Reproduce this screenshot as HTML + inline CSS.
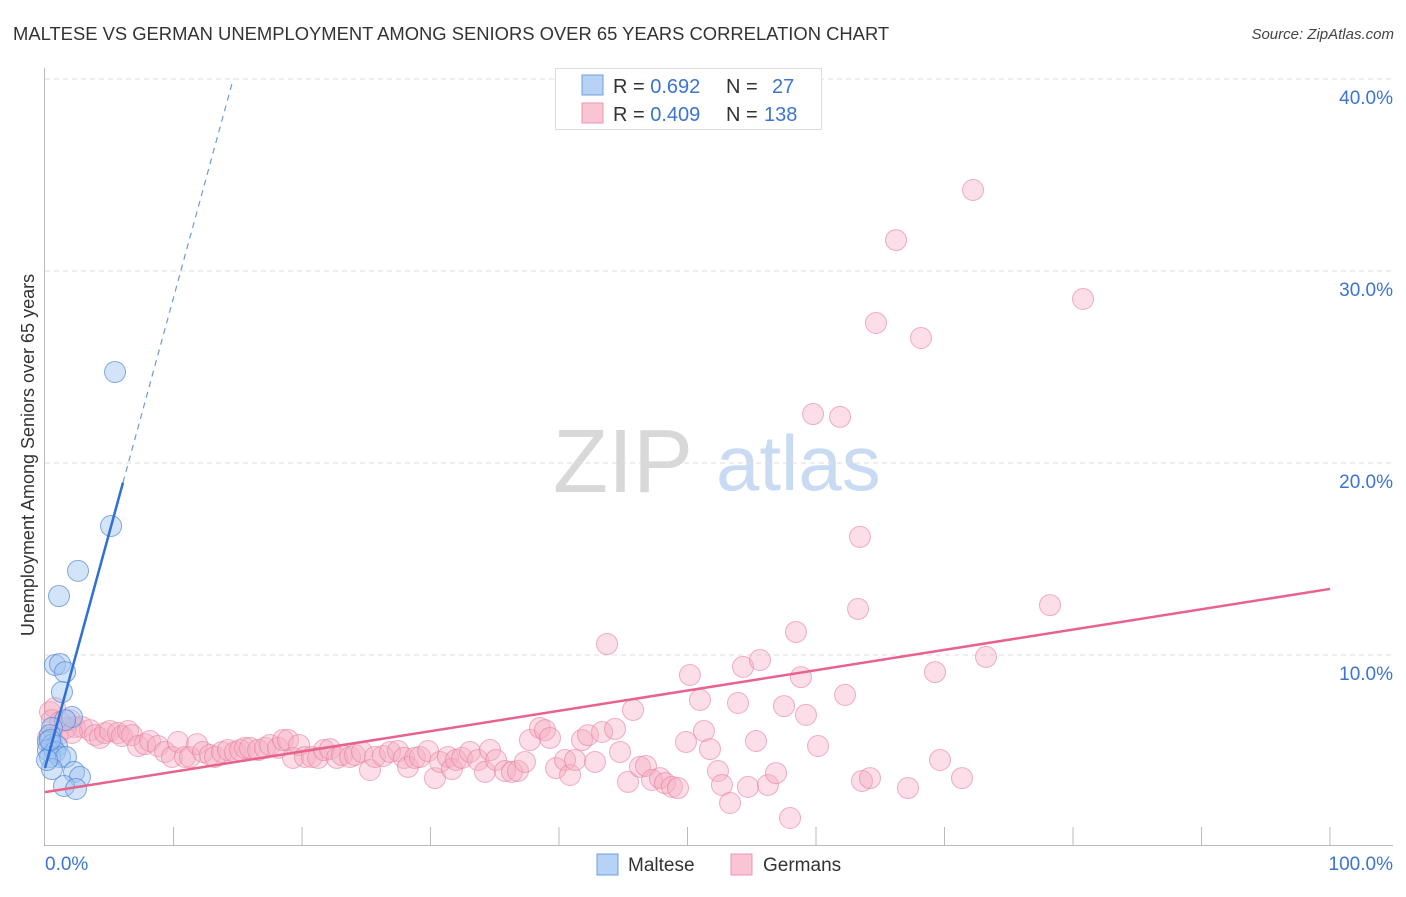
<!DOCTYPE html>
<html><head><meta charset="utf-8"><style>
body{margin:0;background:#fff;font-family:"Liberation Sans",sans-serif}
svg text{font-family:"Liberation Sans",sans-serif}
</style></head><body>
<svg id="chart" width="1406" height="892" viewBox="0 0 1406 892" xmlns="http://www.w3.org/2000/svg">
<text x="13" y="40" font-size="18.4" fill="#333">MALTESE VS GERMAN UNEMPLOYMENT AMONG SENIORS OVER 65 YEARS CORRELATION CHART</text>
<text x="1394" y="39" font-size="15" fill="#444" font-style="italic" text-anchor="end">Source: ZipAtlas.com</text>
<g>
<text x="553" y="492" font-size="90" fill="#d8d8d8" font-family="Liberation Serif, serif">ZIP</text>
<text x="716" y="490" font-size="78" fill="#c9dbf2">atlas</text>
</g>
<g id="grid"></g>
<g id="axes"></g>
<g id="marks"></g>
<g>
<rect x="555.500" y="68.500" width="266" height="61" fill="#fff" stroke="#ddd"/>
<rect x="582" y="75" width="21" height="20" fill="#b7d2f5" stroke="#6d9de0"/>
<rect x="582" y="103" width="21" height="20" fill="#f9c4d4" stroke="#ec96b2"/>
<text x="613" y="93" font-size="20" fill="#333">R = <tspan fill="#3b74d1">0.692</tspan><tspan x="726">N = </tspan><tspan x="772" fill="#3b74d1">27</tspan></text>
<text x="613" y="121" font-size="20" fill="#333">R = <tspan fill="#3b74d1">0.409</tspan><tspan x="726">N = </tspan><tspan x="764" fill="#3b74d1">138</tspan></text>
</g>
<g>
<rect x="597" y="854" width="21" height="21" fill="#b7d2f5" stroke="#6d9de0"/>
<text x="628" y="871" font-size="19" fill="#333">Maltese</text>
<rect x="731" y="854" width="21" height="21" fill="#f9c4d4" stroke="#ec96b2"/>
<text x="763" y="871" font-size="19" fill="#333">Germans</text>
</g>
<text transform="translate(34,455) rotate(-90)" font-size="18" fill="#333" text-anchor="middle">Unemployment Among Seniors over 65 years</text>
</svg>
<script>
const yTicks=[10,20,30,40];
const yTickLabels=["10.0%","20.0%","30.0%","40.0%"];
const xTickCount=10;
const maltX=[5.45,5.14,2.57,1.09,0.78,1.17,1.56,1.32,2.10,1.56,0.54,0.39,0.23,0.54,0.93,0.23,0.78,0.39,1.17,1.63,0.54,2.26,2.72,1.48,2.41,0.16,0.39];
const maltY=[24.74,16.72,14.38,13.07,9.48,9.53,9.11,8.07,6.77,6.61,6.20,5.83,5.47,5.31,5.26,5.05,4.95,4.69,4.69,4.69,4.06,3.91,3.65,3.18,3.02,4.53,5.57];
const gerX=[0.39,0.78,0.54,1.17,1.95,2.33,2.88,3.50,3.89,4.28,4.67,5.06,5.68,5.99,6.46,6.77,7.24,7.78,8.17,8.79,9.34,9.88,10.35,10.89,11.28,11.83,12.30,12.84,13.23,13.77,14.24,14.79,15.18,15.56,15.95,16.58,17.12,17.51,18.13,18.52,18.91,19.30,19.77,20.23,20.78,21.25,21.71,22.18,22.72,23.11,23.74,24.12,24.67,25.29,25.68,26.30,26.85,27.47,27.94,28.25,28.79,29.18,29.81,30.35,30.74,31.36,31.67,31.98,32.45,33.07,33.70,34.24,34.63,35.10,35.80,36.34,36.81,37.35,37.74,38.52,38.91,39.30,39.77,40.47,40.86,41.25,41.79,42.26,42.80,43.35,43.74,44.36,44.75,45.37,45.76,46.30,46.77,47.24,47.86,48.25,48.79,49.26,49.88,50.19,50.97,51.28,51.75,52.37,52.68,53.31,53.93,54.32,54.71,55.33,55.64,56.26,56.89,57.51,57.98,58.44,58.83,59.22,59.77,60.16,61.87,62.26,63.27,63.42,63.58,64.20,64.67,66.23,67.16,68.17,69.26,69.65,71.36,72.22,73.23,78.21,80.78,0.23,1.01,1.63,2.10];
const gerY=[7.03,7.24,6.61,6.51,6.61,6.25,6.25,6.09,5.83,5.68,5.94,6.04,5.94,5.78,6.04,5.83,5.26,5.36,5.52,5.26,4.95,4.69,5.47,4.69,4.69,5.36,4.95,4.79,4.69,4.95,5.05,4.95,5.05,5.16,5.16,5.05,5.16,5.31,5.16,5.57,5.57,4.64,5.31,4.69,4.69,4.64,5.05,5.10,4.64,4.79,4.69,4.79,4.95,4.01,4.69,4.74,4.95,5.00,4.64,4.17,4.64,4.69,5.00,3.59,4.43,4.69,4.06,4.53,4.64,4.95,4.53,3.91,5.05,4.53,3.96,3.91,3.96,4.43,5.57,6.20,6.09,5.68,4.11,4.53,3.75,4.53,5.57,5.83,4.43,5.99,10.57,6.15,4.95,3.39,7.14,4.17,4.22,3.49,3.59,3.33,3.13,3.07,5.47,8.96,7.66,6.04,5.10,3.96,3.23,2.29,7.50,9.38,3.13,5.52,9.74,3.23,3.85,7.34,1.51,11.20,8.85,6.88,22.55,5.26,22.40,7.92,12.40,16.15,3.44,3.59,27.29,31.61,3.07,26.51,9.11,4.53,3.59,34.22,9.90,12.60,28.54,5.68,5.83,6.20,5.94];
const maltFit=[4.11,2.45];
const gerFit=[2.86,0.1058];
const NS="http://www.w3.org/2000/svg";
const sx=v=>45+v*12.85, sy=v=>847-v*19.2;
function mk(tag,attrs,parent){const e=document.createElementNS(NS,tag);for(const k in attrs)e.setAttribute(k,attrs[k]);parent.appendChild(e);return e;}
const grid=document.getElementById('grid'),axes=document.getElementById('axes'),marks=document.getElementById('marks');
yTicks.forEach((t,i)=>{
 const l=mk('line',{x1:45,x2:1393,y1:sy(t),y2:sy(t),stroke:'#ddd','stroke-dasharray':'5,4'},grid);
 
 
 const tx=mk('text',{x:1393,y:sy(t)+25,'font-size':19,fill:'#3b74d1','text-anchor':'end'},axes);
 tx.textContent=yTickLabels[i];
 
 
});
const ya=mk('line',{x1:44.5,x2:44.5,y1:68,y2:845,stroke:'#bbb'},axes);


const xa=mk('line',{x1:44,x2:1393,y1:845.5,y2:845.5,stroke:'#bbb'},axes);


for(let i=1;i<=xTickCount;i++){
 const t=mk('line',{x1:sx(i*10),x2:sx(i*10),y1:827,y2:845,stroke:'#bbb'},axes);
 
 
}
const x0=mk('text',{x:45,y:870,'font-size':19,fill:'#3b74d1'},axes);x0.textContent='0.0%';


const x1=mk('text',{x:1393,y:870,'font-size':19,fill:'#3b74d1','text-anchor':'end'},axes);x1.textContent='100.0%';


gerX.forEach((x,i)=>{
 const c=mk('circle',{cx:sx(x),cy:sy(gerY[i]),r:10.5,fill:'rgba(246,172,196,0.4)',stroke:'rgba(232,126,160,0.6)','stroke-width':1},marks);
 
 
});
maltX.forEach((x,i)=>{
 const c=mk('circle',{cx:sx(x),cy:sy(maltY[i]),r:10.5,fill:'rgba(160,196,240,0.45)',stroke:'rgba(80,135,215,0.7)','stroke-width':1},marks);
 
 
});
const gl=mk('line',{x1:sx(0),y1:sy(gerFit[0]),x2:sx(100),y2:sy(gerFit[0]+gerFit[1]*100),stroke:'#e8628e','stroke-width':2.5},marks);


const xs=6.07,xe=(40-maltFit[0])/maltFit[1];
const bl=mk('line',{x1:sx(0),y1:sy(maltFit[0]),x2:sx(xs),y2:sy(maltFit[0]+maltFit[1]*xs),stroke:'#2f6fd6','stroke-width':2.5},marks);


const bd=mk('line',{x1:sx(xs),y1:sy(maltFit[0]+maltFit[1]*xs),x2:sx(xe),y2:sy(40),stroke:'#6a9be0','stroke-width':1.2,'stroke-dasharray':'6,5'},marks);


</script>
</body></html>
